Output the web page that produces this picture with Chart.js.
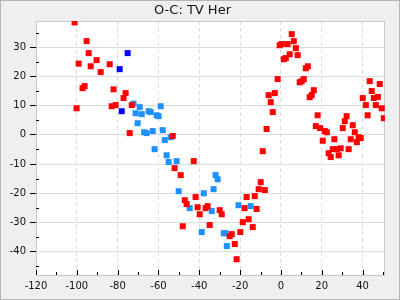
<!DOCTYPE html>
<html>
<head>
<meta charset="utf-8">
<script src="https://cdn.jsdelivr.net/npm/chart.js@4"></script>
<style>
  body { margin: 0; background: #efefef; }
</style>
</head>
<body>
<canvas id="myChart" width="400" height="300"></canvas>
<script>
var titulo = "O-C: TV Her";

// puntos rojos
var redX = [-101.1, -95.2, -94.2, -90.3, -99.1, -93.2, -83.9, -88.3, -96.2, -97.2, -82.0, -76.1, -77.1, -100.1, -82.9, -81.0, -73.1, -74.1,
    -53.0, -42.7, -52.1, -49.1, -41.8, -47.1, -46.2, -40.8, -39.8, -36.9, -35.9, -30.0, -29.0, -48.1, -34.9, -24.1, -25.1, -19.9, -22.6, -21.7,
    -17.8, -18.7, -15.8, -13.8, -11.9, -16.8, -12.8, -10.9, -9.9, -7.9, -8.9, -7.0, -4.0, -5.0, -6.0, -3.0, -1.6,
    5.3, 6.3, -0.6, 0.4, 3.3, 7.3, 4.3, 8.2, 1.4, 2.4, 12.2, 13.2, 11.2, 10.2, 9.2, 16.1, 15.1, 14.1, 18.0, 17.1, 19.2,
    21.5, 22.5, 20.5, 26.2, 34.2, 38.1, 39.1, 37.2, 23.4, 24.4, 25.4, 27.4, 29.3, 28.3, 33.2, 30.3, 31.3, 32.2, 35.2, 36.2,
    43.5, 48.4, 44.5, 40.1, 45.5, 47.5, 41.6, 46.5, 49.4, 42.5, 50.4];
var redY = [38.5, 32.1, 28.0, 25.6, 24.4, 23.5, 24.2, 21.5, 16.7, 16.0, 15.6, 14.3, 12.6, 9.1, 9.8, 10.2, 10.2, 0.6,
    -0.4, -9.0, -11.4, -13.8, -21.3, -22.4, -23.7, -24.8, -27.2, -25.1, -24.4, -25.8, -27.2, -31.3, -30.9, -34.0, -34.7, -33.3, -37.4, -42.6,
    -25.1, -29.9, -28.9, -31.6, -25.4, -21.3, -21.0, -18.6, -16.2, -18.9, -5.6, 2.0, 7.8, 11.2, 13.6, 14.3, 19.1,
    34.5, 32.1, 30.7, 31.1, 31.1, 29.7, 27.6, 27.3, 25.9, 26.3, 22.8, 23.5, 19.1, 18.4, 18.0, 15.3, 13.6, 12.9, 6.7, 3.0, 2.3,
    1.3, 0.9, -2.0, -1.5, -1.5, -0.8, -1.1, -2.5, -6.3, -7.6, -4.9, -4.9, -4.6, -7.0, -4.9, 2.3, 4.7, 6.4, 3.3, 0.9,
    18.4, 17.4, 15.0, 12.6, 12.6, 13.0, 10.2, 10.2, 9.1, 6.7, 5.7];

// puntos azul claro
var lightX = [-72.2, -69.2, -71.2, -68.2, -64.8, -63.8, -58.9, -60.9, -59.9, -70.2, -67.0, -65.8, -62.8, -57.9, -56.9, -54.0, -61.9,
    -56.0, -55.0, -51.1, -32.0, -31.0, -33.0, -50.1, -37.8, -44.7, -33.9, -20.8, -38.8, -28.0, -27.1, -26.5, -14.8];
var lightY = [10.7, 9.5, 7.4, 7.1, 8.1, 7.8, 9.8, 6.7, 6.4, 4.0, 0.9, 0.6, 1.3, 1.6, -1.8, -0.8, -4.9,
    -7.0, -9.3, -9.0, -13.8, -15.2, -18.6, -19.3, -20.0, -25.1, -26.1, -24.1, -33.3, -33.7, -33.7, -38.1, -24.4];

// puntos azul oscuro
var darkX = [-75.1, -79.0, -78.0];
var darkY = [28.0, 22.5, 8.1];

var xTicks = [-120, -100, -80, -60, -40, -20, 0, 20, 40];
var yTicks = [-40, -30, -20, -10, 0, 10, 20, 30];

function puntos(xs, ys) {
    var out = [];
    for (var i = 0; i < xs.length; i++) {
        out.push({x: xs[i], y: ys[i]});
    }
    return out;
}

var fondo = {
    id: 'fondo',
    beforeDraw: function (chart) {
        var ctx = chart.ctx;
        var a = chart.chartArea;
        ctx.save();
        ctx.fillStyle = '#efefef';
        ctx.fillRect(0, 0, chart.width, chart.height);
        ctx.strokeStyle = '#b4b4b4';
        ctx.lineWidth = 1;
        ctx.strokeRect(0.5, 0.5, chart.width - 1, chart.height - 1);
        ctx.fillStyle = '#ffffff';
        ctx.fillRect(a.left, a.top, a.right - a.left, a.bottom - a.top);
        ctx.restore();
    },
    beforeDatasetsDraw: function (chart) {
        var ctx = chart.ctx;
        var a = chart.chartArea;
        ctx.save();
        ctx.strokeStyle = '#c8c8c8';
        ctx.lineWidth = 1;
        ctx.strokeRect(Math.round(a.left) + 0.5, Math.round(a.top) + 0.5,
            Math.round(a.right - a.left) - 1, Math.round(a.bottom - a.top));
        ctx.restore();
    },
    afterDraw: function (chart) {
        var ctx = chart.ctx;
        var a = chart.chartArea;
        var sx = chart.scales.x;
        var sy = chart.scales.y;
        ctx.save();
        ctx.strokeStyle = '#000';
        ctx.lineWidth = 1;
        ctx.beginPath();
        for (var v = -120; v <= 50; v += 10) {
            var px = Math.round(sx.getPixelForValue(v)) + 0.5;
            var len = (v % 20 === 0) ? 5 : 3;
            ctx.moveTo(px, a.bottom);
            ctx.lineTo(px, a.bottom - len);
        }
        for (var w = -45; w <= 35; w += 10) {
            var py = Math.round(sy.getPixelForValue(w)) + 0.5;
            ctx.moveTo(a.left, py);
            ctx.lineTo(a.left + 3, py);
        }
        ctx.stroke();
        ctx.restore();
    }
};

var ctx = document.getElementById('myChart').getContext('2d');
var myChart = new Chart(ctx, {
    type: 'scatter',
    data: {
        datasets: [{
                label: 'rojo',
                data: puntos(redX, redY),
                backgroundColor: '#ff0000',
                pointStyle: 'rect',
                pointRadius: 4.25,
                borderWidth: 0,
                clip: 0
            }, {
                label: 'azul claro',
                data: puntos(lightX, lightY),
                backgroundColor: '#1e90ff',
                pointStyle: 'rect',
                pointRadius: 4.25,
                borderWidth: 0,
                clip: 0
            }, {
                label: 'azul',
                data: puntos(darkX, darkY),
                backgroundColor: '#0000ff',
                pointStyle: 'rect',
                pointRadius: 4.25,
                borderWidth: 0,
                clip: 0
            }]
    },
    options: {
        responsive: false,
        animation: false,
        devicePixelRatio: 1,
        layout: {padding: {left: 0, right: 15, top: 0, bottom: 0}},
        plugins: {
            legend: {display: false},
            tooltip: {enabled: false},
            title: {
                display: true,
                text: titulo,
                color: '#111',
                font: {family: 'DejaVu Sans', size: 13, weight: 'normal'},
                padding: {top: 3, bottom: 2.4}
            }
        },
        scales: {
            x: {
                type: 'linear',
                min: -120,
                max: 51,
                afterBuildTicks: function (scale) {
                    scale.ticks = xTicks.map(function (v) { return {value: v}; });
                },
                afterFit: function (scale) { scale.height = 25; },
                ticks: {
                    color: '#111',
                    font: {family: 'DejaVu Sans', size: 10},
                    padding: 5,
                    maxRotation: 0
                },
                grid: {color: '#dcdcdc', lineWidth: 1, drawTicks: false},
                border: {display: false, dash: [4, 3]}
            },
            y: {
                type: 'linear',
                min: -48,
                max: 39,
                afterBuildTicks: function (scale) {
                    scale.ticks = yTicks.map(function (v) { return {value: v}; });
                },
                afterFit: function (scale) { scale.width = 36; },
                ticks: {
                    color: '#111',
                    font: {family: 'DejaVu Sans', size: 10},
                    padding: 4
                },
                grid: {color: '#dcdcdc', lineWidth: 1, drawTicks: true, tickLength: 6, tickColor: '#000'},
                border: {display: false}
            }
        }
    },
    plugins: [fondo]
});
</script>
</body>
</html>
